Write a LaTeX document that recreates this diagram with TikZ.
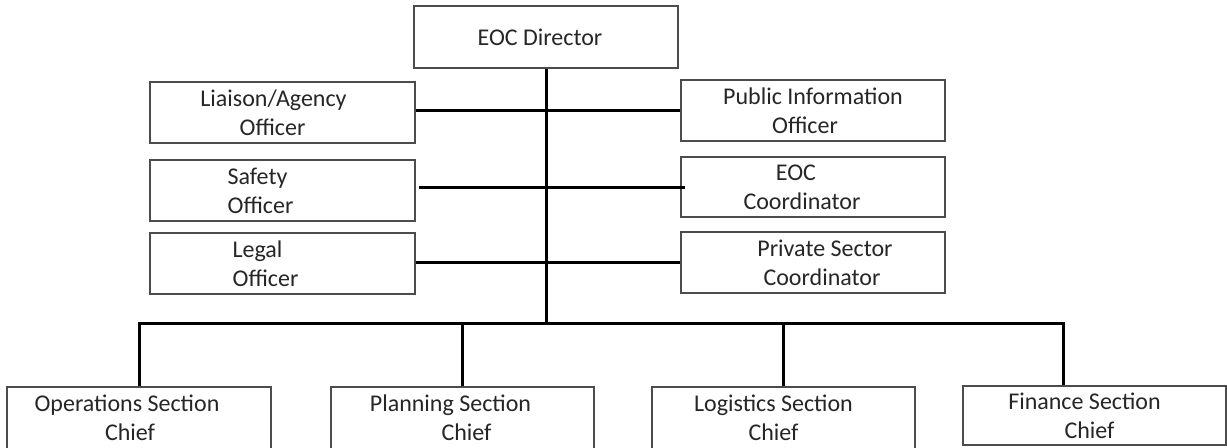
\documentclass[tikz,border=0pt]{standalone}
\usepackage{fontspec}
\setmainfont{Carlito}
\usetikzlibrary{calc}
\newcommand\Ls[2]{#2\kern\dimexpr1.5pt*#1\relax}
\newcommand\Rs[2]{\kern\dimexpr1.5pt*#1\relax#2}
\begin{document}
\begin{tikzpicture}[x=0.75pt,y=-0.75pt,
  box/.style={draw=black!70, line width=0.9pt, inner sep=0pt, align=center,
    font=\fontsize{18}{21.75}\selectfont, text=black!85},
  sz/.style 2 args={minimum width=#1*0.75pt, minimum height=#2*0.75pt},
  conn/.style={line width=2.25pt, black}]
\clip (0,0) rectangle (1227,447);
\fill[white] (0,0) rectangle (1227,447);

\node[box, sz={264}{62}] (dir) at (546,37) {\Ls{6}{EOC Director}};
\node[box, sz={265}{61}] (liaison) at (282.5,112.5) {\Ls{9}{Liaison/Agency}\\\Ls{10}{Officer}};
\node[box, sz={265}{61}] (safety) at (282.5,190.5) {\Ls{25}{Safety}\\\Ls{22}{Officer}};
\node[box, sz={265}{61}] (legal) at (282.5,263.5) {\Ls{25}{Legal}\\\Ls{17}{Officer}};
\node[box, sz={264}{61}] (pio) at (813,110.5) {Public Information\\\Ls{8}{Officer}};
\node[box, sz={264}{60}] (coord) at (813,187) {\Ls{17}{EOC}\\\Ls{11}{Coordinator}};
\node[box, sz={264}{61}] (private) at (813,262.5) {\Rs{12}{Private Sector}\\\Rs{9}{Coordinator}};

\node[box, sz={264}{62}] (ops) at (139,418) {\Ls{12}{Operations Section}\\\Ls{9}{Chief}};
\node[box, sz={263}{62}] (plan) at (462.5,418) {\Ls{12}{Planning Section}\\\Rs{4}{Chief}};
\node[box, sz={263}{62}] (logi) at (783.5,418) {\Ls{10}{Logistics Section}\\\Ls{10}{Chief}};
\node[box, sz={263}{59}] (fin) at (1094.5,415.5) {\Ls{10}{Finance Section}\\\Ls{5}{Chief}};

\coordinate (busL) at (138,323);
\coordinate (busR) at (1063,323);

\draw[conn] (dir.south) -- (dir.south |- busL);
\draw[conn] (ops.north) |- (busR) -- (busR |- fin.north);
\draw[conn] (plan.north) -- (plan.north |- busL);
\draw[conn] (logi.north) -- (logi.north |- busL);
\draw[conn] (liaison.east |- pio.west) -- (pio.west);
\draw[conn] ($(safety.east |- coord.west)+(3,0)$) -- ($(coord.west)+(5,0)$);
\draw[conn] (legal.east |- private.west) -- (private.west);
\end{tikzpicture}
\end{document}
